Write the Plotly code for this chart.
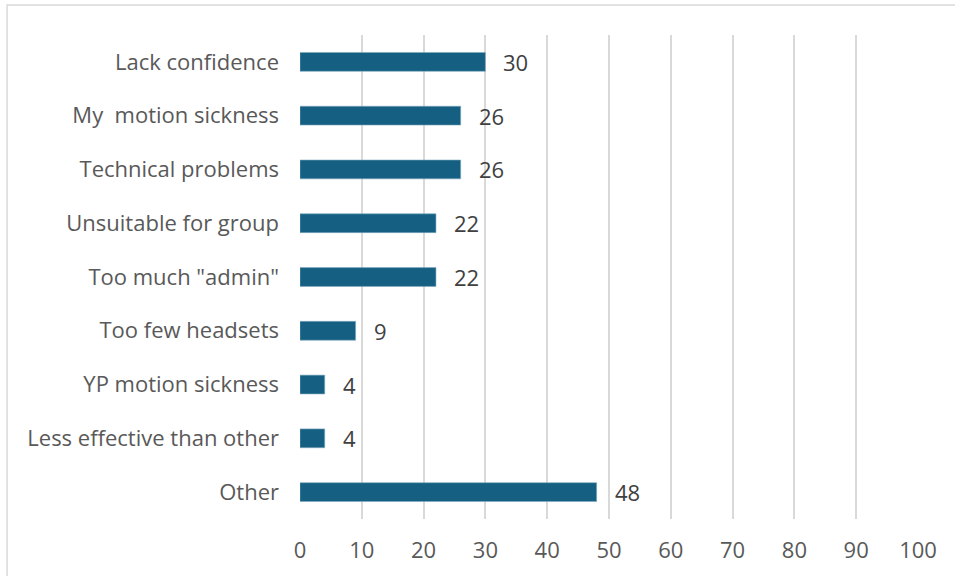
import plotly.graph_objects as go

categories = [
    "Lack confidence",
    "My  motion sickness",
    "Technical problems",
    "Unsuitable for group",
    "Too much \"admin\"",
    "Too few headsets",
    "YP motion sickness",
    "Less effective than other",
    "Other",
]
values = [30, 26, 26, 22, 22, 9, 4, 4, 48]
x_ticks = [0, 10, 20, 30, 40, 50, 60, 70, 80, 90, 100]

bar_color = "#156082"
font_family = "Open Sans"
font_size = 22

fig = go.Figure(
    go.Bar(
        y=categories,
        x=values,
        orientation="h",
        marker=dict(color=bar_color, line=dict(color="#7fa9bf", width=0.6)),
        hoverinfo="x+y",
    )
)

# value labels to the right of each bar
for cat, val in zip(categories, values):
    fig.add_annotation(
        x=val, y=cat, text=str(val), showarrow=False,
        xanchor="left", xshift=16,
        font=dict(family=font_family, size=font_size, color="#404040"),
    )

# outer frame of the chart area
fig.add_shape(
    type="rect", xref="paper", yref="paper",
    x0=-0.474, x1=1.062, y0=-0.2, y1=1.062,
    line=dict(color="#d9d9d9", width=1.5), fillcolor="rgba(0,0,0,0)",
    layer="below",
)

fig.update_layout(
    width=955, height=576,
    margin=dict(l=300, r=37, t=35, b=57),
    paper_bgcolor="white", plot_bgcolor="white",
    bargap=0.65,
    showlegend=False,
    font=dict(family=font_family, size=font_size, color="#595959"),
    xaxis=dict(
        range=[0, 100], tickvals=x_ticks, ticktext=[str(t) for t in x_ticks],
        showgrid=True, gridcolor="#d9d9d9", gridwidth=1.5,
        zeroline=False, showline=False, ticks="",
        ticklabelstandoff=16,
        tickfont=dict(family=font_family, size=font_size, color="#595959"),
    ),
    yaxis=dict(
        categoryorder="array", categoryarray=categories[::-1],
        autorange=True,
        showgrid=False, zeroline=False, showline=False, ticks="",
        ticklabelstandoff=20,
        tickfont=dict(family=font_family, size=font_size, color="#595959"),
    ),
)

fig.write_html("out.html")
